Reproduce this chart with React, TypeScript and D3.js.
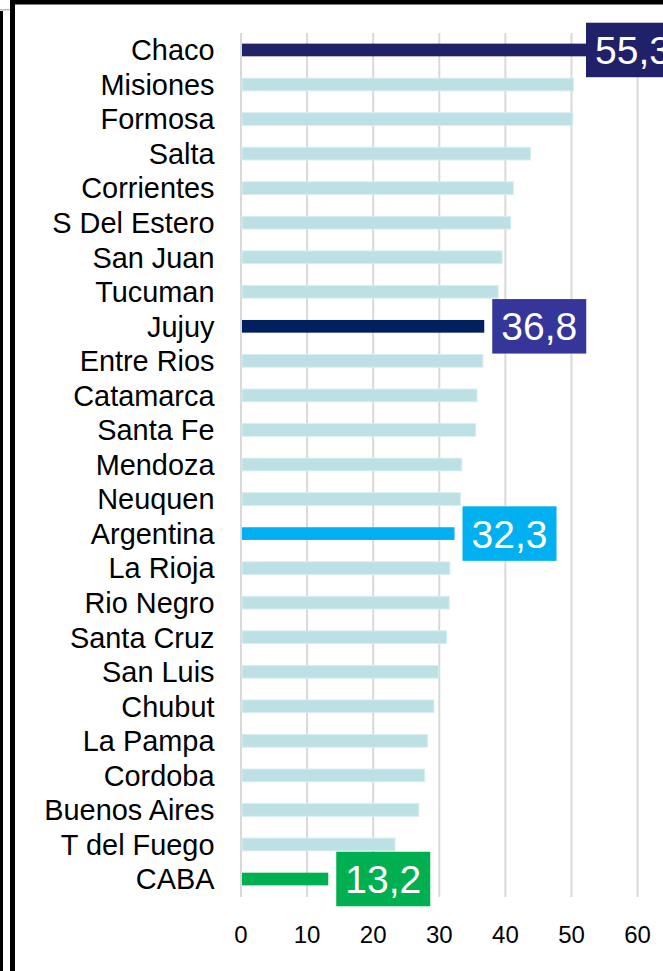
import React from "react";
import * as d3 from "d3";

const categories = [
  "Chaco", "Misiones", "Formosa", "Salta", "Corrientes", "S Del Estero", "San Juan", "Tucuman",
  "Jujuy", "Entre Rios", "Catamarca", "Santa Fe", "Mendoza", "Neuquen", "Argentina", "La Rioja",
  "Rio Negro", "Santa Cruz", "San Luis", "Chubut", "La Pampa", "Cordoba", "Buenos Aires", "T del Fuego", "CABA",
];
const values = [
  55.3, 50.3, 50.2, 43.8, 41.2, 40.8, 39.5, 38.9,
  36.8, 36.6, 35.7, 35.5, 33.4, 33.2, 32.3, 31.6,
  31.5, 31.1, 29.9, 29.2, 28.2, 27.8, 26.9, 23.3, 13.2,
];
const ticks = [0, 10, 20, 30, 40, 50, 60];
const highlighted = ["Chaco", "Jujuy", "Argentina", "CABA"];
const highlightBarColors = ["#21216a", "#02205f", "#00b0f0", "#00b050"];
const highlightBoxColors = ["#21216a", "#36369a", "#00b0f0", "#00b050"];
const labelText = ["55,3", "36,8", "32,3", "13,2"];

const W = 663;
const H = 971;
const FONT = "Arial, 'Liberation Sans', Helvetica, sans-serif";

export default function App() {
  const x = d3.scaleLinear().domain([0, 60]).range([241, 637.6]);
  const y = d3.scaleBand<string>().domain(categories).range([32.7, 896.3]).padding(0);
  const bw = y.bandwidth();
  const barH = 12.7;
  const boxW = 94;
  const boxH = 54.5;
  const chartRight = 680;

  return (
    <svg
      width={W}
      height={H}
      style={{ position: "absolute", left: 0, top: 0, background: "#fff" }}
    >
      <rect x={0} y={0} width={W} height={H} fill="#fff" />
      {/* frame */}
      <rect x={0} y={11} width={3} height={H - 11} fill="#000" />
      <rect x={0} y={9} width={10} height={1.5} fill="#bbb" />
      <rect x={10} y={0} width={5} height={H} fill="#000" />
      <rect x={10} y={0} width={W - 10} height={4.5} fill="#000" />

      {/* gridlines */}
      {ticks.map((t) => (
        <line
          key={"g" + t}
          x1={x(t)}
          x2={x(t)}
          y1={33}
          y2={897}
          stroke="#d9d9d9"
          strokeWidth={2}
        />
      ))}

      {/* bars */}
      {categories.map((c, i) => {
        const hi = highlighted.indexOf(c);
        const cy = (y(c) as number) + bw / 2;
        return (
          <rect
            key={"b" + c}
            x={x(0) + 1}
            y={cy - barH / 2}
            width={x(values[i]) - x(0) - 1}
            height={barH}
            fill={hi >= 0 ? highlightBarColors[hi] : "#bce0e3"}
            stroke={hi >= 0 ? "none" : "#d6eef0"}
            strokeWidth={hi >= 0 ? 0 : 1}
          />
        );
      })}

      {/* category labels */}
      {categories.map((c) => {
        const cy = (y(c) as number) + bw / 2;
        return (
          <text
            key={"l" + c}
            x={214.5}
            y={cy + 10.3}
            textAnchor="end"
            fontFamily={FONT}
            fontSize={28.9}
            fill="#000"
          >
            {c}
          </text>
        );
      })}

      {/* value labels */}
      {highlighted.map((c, k) => {
        const i = categories.indexOf(c);
        const cy = (y(c) as number) + bw / 2;
        const bx = Math.min(x(values[i]) + 8, chartRight - boxW);
        return (
          <g key={"v" + c}>
            <rect x={bx} y={cy - boxH / 2} width={boxW} height={boxH} fill={highlightBoxColors[k]} />
            <text
              x={bx + boxW / 2}
              y={cy + 14}
              textAnchor="middle"
              fontFamily={FONT}
              fontSize={39}
              fill="#fff"
            >
              {labelText[k]}
            </text>
          </g>
        );
      })}

      {/* x tick labels */}
      {ticks.map((t) => (
        <text
          key={"t" + t}
          x={x(t)}
          y={943}
          textAnchor="middle"
          fontFamily={FONT}
          fontSize={24}
          fill="#000"
        >
          {t}
        </text>
      ))}
    </svg>
  );
}
